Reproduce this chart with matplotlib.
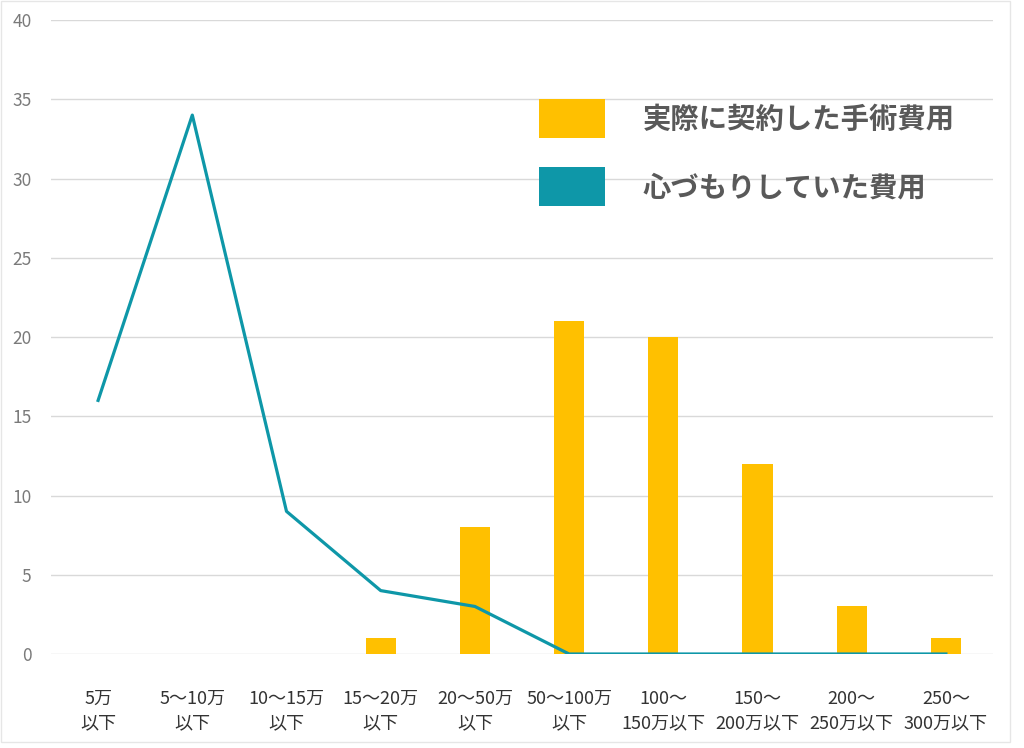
import matplotlib
matplotlib.use("Agg")
import matplotlib.pyplot as plt
from matplotlib.patches import Patch, Rectangle

plt.rcParams['font.family'] = ['Noto Sans CJK JP', 'DejaVu Sans']

# data
categories = ["5万\n以下", "5〜10万\n以下", "10〜15万\n以下", "15〜20万\n以下", "20〜50万\n以下",
              "50〜100万\n以下", "100〜\n150万以下", "150〜\n200万以下", "200〜\n250万以下", "250〜\n300万以下"]
actual_cost = [0, 0, 0, 1, 8, 21, 20, 12, 3, 1]
planned_cost = [16, 34, 9, 4, 3, 0, 0, 0, 0, 0]

BAR_COLOR = "#FFC000"
LINE_COLOR = "#0E97A8"
TEXT_GRAY = "#595959"

fig = plt.figure(figsize=(10.24, 7.48), dpi=100)
ax = fig.add_axes([51/1024, 1-654/748, (993-51)/1024, (654-20)/748])

x = list(range(len(categories)))
ax.bar(x, actual_cost, width=0.32, color=BAR_COLOR, zorder=2)
ax.plot(x, planned_cost, color=LINE_COLOR, linewidth=2.3, zorder=3)

ax.set_xlim(-0.5, len(categories) - 0.5)
ax.set_ylim(0, 40)
ax.set_yticks(range(0, 41, 5))
ax.set_xticks(x)
ax.set_xticklabels(categories, fontsize=13, color="#333333", linespacing=1.45)
ax.tick_params(axis='x', length=0, pad=26)
ax.tick_params(axis='y', length=0, pad=14, labelsize=12.5, labelcolor="#7a7a7a")
ax.yaxis.grid(True, color="#d9d9d9", linewidth=1, zorder=0)
ax.set_axisbelow(True)
for s in ax.spines.values():
    s.set_visible(False)

handles = [Patch(facecolor=BAR_COLOR, edgecolor='none'), Patch(facecolor=LINE_COLOR, edgecolor='none')]
leg = ax.legend(handles, ["実際に契約した手術費用", "心づもりしていた費用"],
                loc='upper left', bbox_to_anchor=(539/1024, 1-99/748), bbox_transform=fig.transFigure,
                frameon=False, borderpad=0, borderaxespad=0, handlelength=2.33, handleheight=1.74,
                handletextpad=1.34, labelspacing=1.04,
                prop={'size': 20.4, 'weight': 'bold'})
for t in leg.get_texts():
    t.set_color(TEXT_GRAY)

# light chart border
fig.patches.append(Rectangle((1/1024, 1-742/748), 1009/1024, 741/748, transform=fig.transFigure,
                             fill=False, edgecolor="#e6e6e6", linewidth=1))

fig.savefig("out.png", dpi=100, facecolor="white")
